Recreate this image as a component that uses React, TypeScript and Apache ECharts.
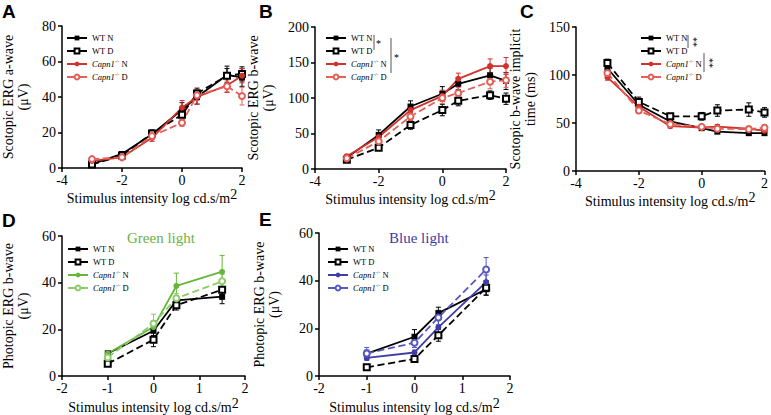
import React, { useEffect, useRef } from 'react';
import * as echarts from 'echarts';

const xScot = [-3, -2, -1, 0, 0.5, 1.5, 2];
const xPhot = [-1, 0, 0.5, 1.5];

// Panel A: scotopic a-wave (µV)
const aWtN = [2.2, 7.9, 19, 32.8, 40, 52.4, 51];
const aWtNErr = [1, 1, 2, 4, 4, 5, 5];
const aWtD = [2, 7, 19.5, 30, 42, 52, 53];
const aWtDErr = [1, 1, 2, 3, 3, 4, 4];
const aKoN = [4, 6, 17, 34, 40, 46.5, 52];
const aKoNErr = [1, 1, 2, 4, 4, 4, 4];
const aKoD = [5, 6, 18, 25.5, 41, 46, 40.5];
const aKoDErr = [1, 1, 2, 2, 3, 3, 5];

// Panel B: scotopic b-wave (µV)
const bWtN = [16, 48, 88, 106, 120, 132, 124];
const bWtNErr = [2, 7, 8, 10, 8, 10, 12];
const bWtD = [13, 30, 62, 83, 96, 104, 99];
const bWtDErr = [2, 4, 6, 8, 7, 6, 8];
const bKoN = [18, 45, 83, 103, 127, 145, 145];
const bKoNErr = [2, 5, 6, 8, 8, 10, 12];
const bKoD = [15, 39, 74, 100, 107, 123, 125];
const bKoDErr = [2, 5, 6, 8, 8, 10, 10];

// Panel C: scotopic b-wave implicit time (ms)
const cWtN = [107, 69, 51.6, 44.6, 41, 39.4, 39.4];
const cWtNErr = [4, 4, 3, 2, 2, 2, 2];
const cWtD = [112.5, 72, 57, 57, 63, 64, 61];
const cWtDErr = [4, 5, 3, 4, 6, 7, 5];
const cKoN = [97.6, 67, 46.7, 45.3, 46.3, 44, 42];
const cKoNErr = [3, 3, 2, 2, 2, 2, 2];
const cKoD = [102, 63, 48.8, 46, 44, 43.6, 45];
const cKoDErr = [3, 3, 2, 2, 3, 3, 3];

// Panel D: photopic b-wave, green light (µV)
const dWtN = [9.7, 19.4, 32.4, 34];
const dWtNErr = [1, 2, 2, 3];
const dWtD = [5.3, 15.6, 30.3, 37];
const dWtDErr = [1, 3, 2, 4];
const dKoN = [9.7, 21, 38.6, 44.7];
const dKoNErr = [1, 2, 5.5, 7];
const dKoD = [8, 22.5, 33.3, 40.6];
const dKoDErr = [1, 4, 2, 3];

// Panel E: photopic b-wave, blue light (µV)
const eWtN = [9.4, 16.5, 26.4, 36.4];
const eWtNErr = [1.5, 3, 2.5, 2.5];
const eWtD = [3.7, 7.2, 17.1, 37];
const eWtDErr = [0.5, 0.5, 2.5, 3];
const eKoN = [7.6, 9.9, 20.4, 39.4];
const eKoNErr = [1, 1, 3, 3];
const eKoD = [9.5, 14, 24.6, 44.7];
const eKoDErr = [2.5, 2, 3, 5];

const groupNames = ['WT N', 'WT D', 'Capn1 N', 'Capn1 D'];

const serif = "'Liberation Serif', 'Times New Roman', serif";

type SDef = { vals: number[]; errs: number[]; color: string; dashed: boolean; symbol: string };

const panels = [
  {
    id: 'A', xs: xScot, xMin: -4, xMax: 2, xInt: 2, yMax: 80, yInt: 20,
    grid: { left: 52, top: 26, width: 190, height: 142 },
    yName: 'Scotopic ERG a-wave\n(μV)', yGap: 31, xGap: 17,
    legend: { left: 66, top: 33 },
    series: [
      { vals: aWtN, errs: aWtNErr, color: '#000', dashed: false, symbol: 'rect' },
      { vals: aWtD, errs: aWtDErr, color: '#000', dashed: true, symbol: 'emptyRect' },
      { vals: aKoN, errs: aKoNErr, color: '#d1322b', dashed: false, symbol: 'circle' },
      { vals: aKoD, errs: aKoDErr, color: '#e35f57', dashed: true, symbol: 'emptyCircle' },
    ] as SDef[],
  },
  {
    id: 'B', xs: xScot, xMin: -4, xMax: 2, xInt: 2, yMax: 200, yInt: 50,
    grid: { left: 315, top: 27, width: 191, height: 142 },
    yName: 'Scotopic ERG b-wave\n(μV)', yGap: 39, xGap: 17,
    legend: { left: 325, top: 33 },
    series: [
      { vals: bWtN, errs: bWtNErr, color: '#000', dashed: false, symbol: 'rect' },
      { vals: bWtD, errs: bWtDErr, color: '#000', dashed: true, symbol: 'emptyRect' },
      { vals: bKoN, errs: bKoNErr, color: '#d1322b', dashed: false, symbol: 'circle' },
      { vals: bKoD, errs: bKoDErr, color: '#e35f57', dashed: true, symbol: 'emptyCircle' },
    ] as SDef[],
  },
  {
    id: 'C', xs: xScot, xMin: -4, xMax: 2, xInt: 2, yMax: 150, yInt: 50,
    grid: { left: 576, top: 27, width: 191, height: 144 },
    yName: 'Scotopic b-wave implicit\ntime (ms)', yGap: 38, xGap: 16,
    legend: { left: 640, top: 33 },
    series: [
      { vals: cWtN, errs: cWtNErr, color: '#000', dashed: false, symbol: 'rect' },
      { vals: cWtD, errs: cWtDErr, color: '#000', dashed: true, symbol: 'emptyRect' },
      { vals: cKoN, errs: cKoNErr, color: '#d1322b', dashed: false, symbol: 'circle' },
      { vals: cKoD, errs: cKoDErr, color: '#e35f57', dashed: true, symbol: 'emptyCircle' },
    ] as SDef[],
  },
  {
    id: 'D', xs: xPhot, xMin: -2, xMax: 2, xInt: 1, yMax: 60, yInt: 20,
    grid: { left: 52, top: 236, width: 193, height: 144 },
    yName: 'Photopic ERG b-wave\n(μV)', yGap: 31, xGap: 14,
    legend: { left: 67, top: 244 },
    series: [
      { vals: dWtN, errs: dWtNErr, color: '#000', dashed: false, symbol: 'rect' },
      { vals: dWtD, errs: dWtDErr, color: '#000', dashed: true, symbol: 'emptyRect' },
      { vals: dKoN, errs: dKoNErr, color: '#66b53d', dashed: false, symbol: 'circle' },
      { vals: dKoD, errs: dKoDErr, color: '#8dcc68', dashed: true, symbol: 'emptyCircle' },
    ] as SDef[],
  },
  {
    id: 'E', xs: xPhot, xMin: -2, xMax: 2, xInt: 1, yMax: 60, yInt: 20,
    grid: { left: 319, top: 233, width: 191, height: 144 },
    yName: 'Photopic ERG b-wave\n(μV)', yGap: 37, xGap: 15,
    legend: { left: 327, top: 244 },
    series: [
      { vals: eWtN, errs: eWtNErr, color: '#000', dashed: false, symbol: 'rect' },
      { vals: eWtD, errs: eWtDErr, color: '#000', dashed: true, symbol: 'emptyRect' },
      { vals: eKoN, errs: eKoNErr, color: '#3d3da6', dashed: false, symbol: 'circle' },
      { vals: eKoD, errs: eKoDErr, color: '#5757c2', dashed: true, symbol: 'emptyCircle' },
    ] as SDef[],
  },
];

const legendRich = {
  n: { fontFamily: serif, fontSize: 8.5, lineHeight: 10, color: '#000' },
  i: { fontFamily: serif, fontSize: 8.5, lineHeight: 10, fontStyle: 'italic', color: '#000' },
  s: { fontFamily: serif, fontSize: 5, lineHeight: 5, verticalAlign: 'top', color: '#000' },
};

function legendLabel(name: string) {
  const g = name.slice(2);
  if (g.startsWith('Capn1')) return `{i|Capn1}{s|-/-}{n|${g.slice(5)}}`;
  return `{n|${g}}`;
}

function buildOption() {
  const grids: any[] = [];
  const xAxes: any[] = [];
  const yAxes: any[] = [];
  const legends: any[] = [];
  const series: any[] = [];

  panels.forEach((p, gi) => {
    grids.push({ ...p.grid, containLabel: false });
    const axisCommon = {
      gridIndex: gi,
      axisLine: { onZero: false, lineStyle: { color: '#000', width: 1.5 } },
      axisTick: { show: true, inside: false, length: 4, lineStyle: { color: '#000', width: 1.5 } },
      splitLine: { show: false },
      axisLabel: { color: '#000', fontFamily: serif, fontSize: 14, margin: 5 },
    };
    xAxes.push({
      ...axisCommon,
      type: 'value', min: p.xMin, max: p.xMax, interval: p.xInt,
      name: '{a|Stimulus intensity log cd.s/m}{t|2}',
      nameLocation: 'middle', nameGap: p.xGap,
      nameTextStyle: {
        color: '#000', fontFamily: serif, fontSize: 14,
        rich: {
          a: { fontFamily: serif, fontSize: 14, lineHeight: 18, verticalAlign: 'bottom', color: '#000' },
          t: { fontFamily: serif, fontSize: 14, lineHeight: 14, verticalAlign: 'top', color: '#000' },
        },
      },
    });
    yAxes.push({
      ...axisCommon,
      axisLabel: { ...axisCommon.axisLabel, margin: 6 },
      type: 'value', min: 0, max: p.yMax, interval: p.yInt,
      name: p.yName, nameLocation: 'middle', nameGap: p.yGap, nameRotate: 90,
      nameTextStyle: { color: '#000', fontFamily: serif, fontSize: 14, lineHeight: 15 },
    });
    const names = groupNames.map((g) => `${p.id} ${g}`);
    legends.push({
      orient: 'vertical',
      left: p.legend.left, top: p.legend.top,
      itemWidth: 20, itemHeight: 6, itemGap: 3, padding: 0,
      data: names,
      formatter: legendLabel,
      textStyle: { fontFamily: serif, fontSize: 8.5, lineHeight: 10, color: '#000', rich: legendRich },
    });
    p.series.forEach((s, si) => {
      series.push({
        type: 'line', name: names[si], xAxisIndex: gi, yAxisIndex: gi,
        data: p.xs.map((x, k) => [x, s.vals[k]]),
        symbol: s.symbol, symbolSize: 6,
        lineStyle: { color: s.color, width: 1.8, type: s.dashed ? 'dashed' : 'solid' },
        itemStyle: { color: s.color, borderColor: s.color, borderWidth: s.symbol.startsWith('empty') ? 1.2 : 0 },
        z: 3,
      });
      series.push({
        type: 'custom', name: names[si] + ' err', xAxisIndex: gi, yAxisIndex: gi,
        data: p.xs.map((x, k) => [x, s.vals[k], s.errs[k]]),
        encode: { x: 0, y: 1 },
        z: 2,
        renderItem: (params: any, api: any) => {
          const x = api.value(0);
          const y = api.value(1);
          const e = api.value(2);
          const top = api.coord([x, y + e]);
          const bot = api.coord([x, y - e]);
          const w = 2.5;
          const st = { stroke: s.color, lineWidth: 1 };
          return {
            type: 'group',
            children: [
              { type: 'line', shape: { x1: top[0], y1: top[1], x2: bot[0], y2: bot[1] }, style: st },
              { type: 'line', shape: { x1: top[0] - w, y1: top[1], x2: top[0] + w, y2: top[1] }, style: st },
              { type: 'line', shape: { x1: bot[0] - w, y1: bot[1], x2: bot[0] + w, y2: bot[1] }, style: st },
            ],
          };
        },
      });
    });
  });

  const letter = (t: string, x: number, y: number) => ({
    type: 'text', left: x, top: y,
    style: { text: t, fontFamily: "'Liberation Sans', Arial, sans-serif", fontWeight: 'bold', fontSize: 19, fill: '#000' },
  });
  const bar = (x: number, y1: number, y2: number) => ({
    type: 'line', shape: { x1: x, y1, x2: x, y2 }, style: { stroke: '#555', lineWidth: 1 },
  });
  const star = (t: string, x: number, y: number) => ({
    type: 'text', left: x, top: y,
    style: { text: t, fontFamily: serif, fontSize: 10, fill: '#000' },
  });
  const vstars = (x: number, y: number) => ({
    type: 'text', x, y, rotation: -Math.PI / 2,
    style: { text: '**', fontFamily: serif, fontSize: 10, fill: '#000', align: 'center', verticalAlign: 'middle' },
  });

  const graphic = [
    letter('A', 2, 2),
    letter('B', 259, 2),
    letter('C', 520, 2),
    letter('D', 2, 211),
    letter('E', 259, 210),
    bar(374, 35, 50),
    star('*', 376, 38),
    bar(391, 38, 73),
    star('*', 394, 52),
    bar(688, 35, 48),
    vstars(693, 42),
    bar(704, 53, 72),
    vstars(709, 63),
    {
      type: 'text', left: 127, top: 230,
      style: { text: 'Green light', fontFamily: serif, fontSize: 15, fill: '#6ab340' },
    },
    {
      type: 'text', left: 389, top: 230,
      style: { text: 'Blue light', fontFamily: serif, fontSize: 15, fill: '#3d3da6' },
    },
  ];

  return {
    animation: false,
    backgroundColor: '#fff',
    grid: grids,
    xAxis: xAxes,
    yAxis: yAxes,
    legend: legends,
    series,
    graphic,
  };
}

export default function App() {
  const ref = useRef<HTMLDivElement>(null);
  useEffect(() => {
    if (!ref.current) return;
    const chart = echarts.init(ref.current, undefined, { renderer: 'svg' });
    chart.setOption(buildOption() as any);
    return () => chart.dispose();
  }, []);
  return (
    <div
      ref={ref}
      style={{ position: 'absolute', left: 0, top: 0, width: 771, height: 415, background: '#fff' }}
    />
  );
}
